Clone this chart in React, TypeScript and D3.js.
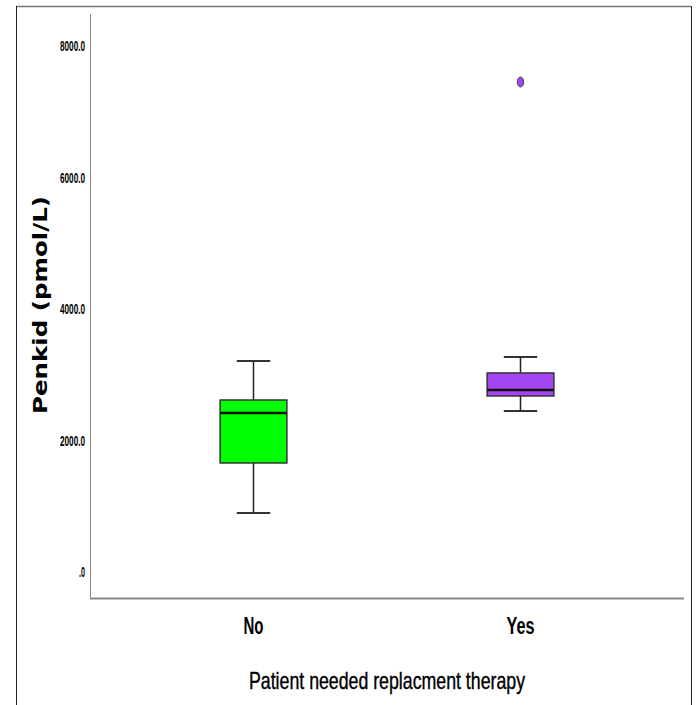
import React, { useEffect, useRef } from 'react'
import * as d3 from 'd3'

const categories = ['No', 'Yes']
const whiskerLow = [897, 2449]
const q1 = [1658, 2677]
const median = [2418, 2768]
const q3 = [2616, 3027]
const whiskerHigh = [3209, 3270]
const outliers = [{ group: 'Yes', value: 7452 }]
const yTicks = [0, 2000, 4000, 6000, 8000]
const boxColors = ['#00ff00', '#a346f2']

const narrow = '"Liberation Sans Narrow", "Liberation Sans", Arial, sans-serif'

const App = () => {
  const ref = useRef<SVGSVGElement>(null)

  useEffect(() => {
    const svg = d3.select(ref.current)
    svg.selectAll('*').remove()

    const width = 696
    const height = 705

    const yScale = d3.scaleLinear().domain([0, 8000]).range([572, 46])
    const xScale = d3.scaleBand().domain(categories).range([120, 654])
    const boxW = xScale.bandwidth() * 0.25
    const capW = xScale.bandwidth() * 0.125
    const mid = (d: string) => xScale(d)! + xScale.bandwidth() / 2

    // outer frame
    svg.append('rect').attr('width', width).attr('height', height).attr('fill', '#fff')
    svg.append('line').attr('x1', 16).attr('x2', 691).attr('y1', 6.5).attr('y2', 6.5)
      .attr('stroke', '#777').attr('stroke-width', 1.5)
    svg.append('line').attr('x1', 16.5).attr('x2', 16.5).attr('y1', 6).attr('y2', height)
      .attr('stroke', '#222')
    svg.append('line').attr('x1', 691.5).attr('x2', 691.5).attr('y1', 6).attr('y2', height)
      .attr('stroke', '#222')

    // axes lines
    svg.append('line').attr('x1', 90.5).attr('x2', 90.5).attr('y1', 14).attr('y2', 598)
      .attr('stroke', '#888')
    svg.append('line').attr('x1', 90).attr('x2', 684).attr('y1', 598.5).attr('y2', 598.5)
      .attr('stroke', '#888').attr('stroke-width', 2)

    // y tick labels
    svg.selectAll('.ytick')
      .data(yTicks)
      .enter()
      .append('text')
      .attr('class', 'ytick')
      .attr('x', 85)
      .attr('y', d => yScale(d) + 5)
      .attr('text-anchor', 'end')
      .style('font-family', narrow)
      .style('font-weight', 'bold')
      .style('font-size', '14px')
      .attr('textLength', d => (d === 0 ? 6 : 25))
      .attr('lengthAdjust', 'spacingAndGlyphs')
      .text(d => (d === 0 ? '.0' : d.toFixed(1)))

    // y title
    svg.append('text')
      .attr('transform', 'translate(47,305) rotate(-90)')
      .attr('text-anchor', 'middle')
      .style('font-family', '"DejaVu Sans", sans-serif')
      .style('font-weight', 'bold')
      .style('font-size', '19px')
      .attr('textLength', 218)
      .attr('lengthAdjust', 'spacingAndGlyphs')
      .text('Penkid (pmol/L)')

    // boxes
    const groups = svg.selectAll('.box')
      .data(categories)
      .enter()
      .append('g')
      .attr('class', 'box')

    groups.append('line')
      .attr('x1', d => mid(d))
      .attr('x2', d => mid(d))
      .attr('y1', (d, i) => yScale(whiskerLow[i]))
      .attr('y2', (d, i) => yScale(whiskerHigh[i]))
      .attr('stroke', '#222').attr('stroke-width', 1.5)

    groups.selectAll('.cap')
      .data((d, i) => [
        { c: mid(d), v: whiskerLow[i] },
        { c: mid(d), v: whiskerHigh[i] },
      ])
      .enter()
      .append('line')
      .attr('class', 'cap')
      .attr('x1', d => d.c - capW / 2)
      .attr('x2', d => d.c + capW / 2)
      .attr('y1', d => yScale(d.v))
      .attr('y2', d => yScale(d.v))
      .attr('stroke', '#333').attr('stroke-width', 2)

    groups.append('rect')
      .attr('x', d => mid(d) - boxW / 2)
      .attr('y', (d, i) => yScale(q3[i]))
      .attr('width', boxW)
      .attr('height', (d, i) => yScale(q1[i]) - yScale(q3[i]))
      .attr('fill', (d, i) => boxColors[i])
      .attr('stroke', '#333').attr('stroke-width', 1.5)

    groups.append('line')
      .attr('x1', d => mid(d) - boxW / 2)
      .attr('x2', d => mid(d) + boxW / 2)
      .attr('y1', (d, i) => yScale(median[i]))
      .attr('y2', (d, i) => yScale(median[i]))
      .attr('stroke', '#111').attr('stroke-width', 2.5)

    // outliers
    svg.selectAll('.outlier')
      .data(outliers)
      .enter()
      .append('ellipse')
      .attr('class', 'outlier')
      .attr('cx', d => mid(d.group))
      .attr('cy', d => yScale(d.value))
      .attr('rx', 3.2)
      .attr('ry', 5)
      .attr('fill', boxColors[1])
      .attr('stroke', '#444').attr('stroke-width', 1)

    // x labels
    svg.selectAll('.xlabel')
      .data(categories)
      .enter()
      .append('text')
      .attr('class', 'xlabel')
      .attr('x', d => mid(d))
      .attr('y', 634)
      .attr('text-anchor', 'middle')
      .style('font-family', narrow)
      .style('font-weight', 'bold')
      .style('font-size', '23px')
      .attr('textLength', d => (d === 'No' ? 20 : 28))
      .attr('lengthAdjust', 'spacingAndGlyphs')
      .text(d => d)

    svg.append('text')
      .attr('x', 387)
      .attr('y', 689)
      .attr('text-anchor', 'middle')
      .style('font-family', narrow)
      .style('font-size', '24px')
      .style('stroke', '#000')
      .style('stroke-width', 0.4)
      .attr('textLength', 276)
      .attr('lengthAdjust', 'spacingAndGlyphs')
      .text('Patient needed replacment therapy')
  }, [])

  return (
    <svg
      ref={ref}
      width={696}
      height={705}
      style={{ position: 'absolute', left: 0, top: 0 }}
    />
  )
}

export default App
